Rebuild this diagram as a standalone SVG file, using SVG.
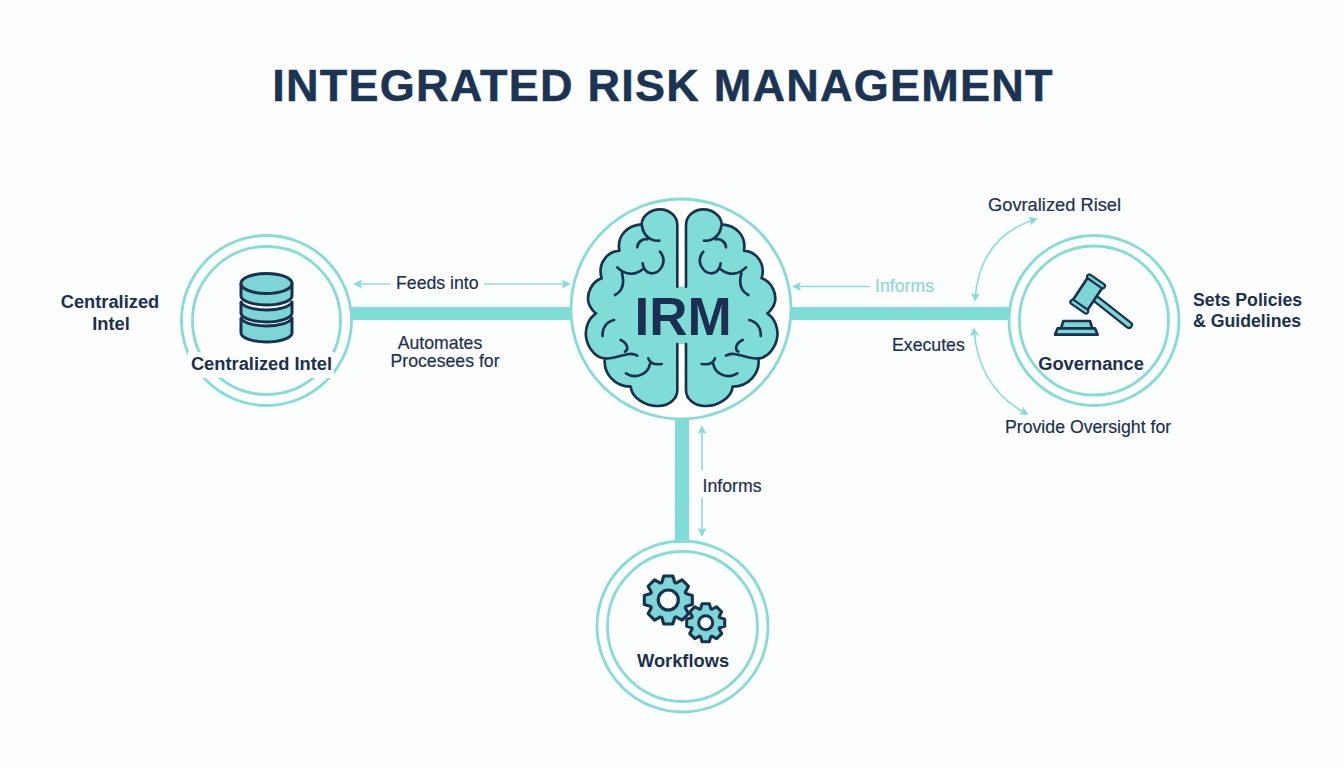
<svg xmlns="http://www.w3.org/2000/svg" width="1344" height="768" viewBox="0 0 1344 768">
<style>
text{font-family:"Liberation Sans",Arial,sans-serif;fill:#1d3050}
.t{font-size:17.700px;stroke:#1d3050;stroke-width:.2}
.b{font-size:18.300px;font-weight:bold}
.ring{fill:none;stroke:#84dcd5;stroke-width:2.8}
.bar{fill:#7fdcd6}
.thin{fill:none;stroke:#8cdfd8;stroke-width:1.7;marker-start:url(#ah);marker-end:url(#ah)}
.one{fill:none;stroke:#8cdfd8;stroke-width:1.7;marker-end:url(#ah)}
.dk{fill:none;stroke:#17314f;stroke-linecap:round;stroke-linejoin:round}
.ic{fill:#7dd5d6;stroke:#17314f;stroke-linejoin:round;stroke-linecap:round}
</style>
<defs>
<marker id="ah" viewBox="0 0 10 10" refX="8" refY="5" markerWidth="9" markerHeight="9" orient="auto-start-reverse" markerUnits="userSpaceOnUse"><path d="M0 0L10 5L0 10L2.500 5Z" fill="#84dcd5"/></marker>
<path id="gear" d="M-27-73L-19-100L19-100L27-73L32.500-70.700L57.300-84.100L84.100-57.300L70.700-32.500L73-27L100-19L100 19L73 27L70.700 32.500L84.100 57.300L57.300 84.100L32.500 70.700L27 73L19 100L-19 100L-27 73L-32.500 70.700L-57.300 84.100L-84.100 57.300L-70.700 32.500L-73 27L-100 19L-100-19L-73-27L-70.700-32.500L-84.100-57.300L-57.300-84.100L-32.500-70.700Z"/>
<g id="hemi">
<path d="M352 290L352 105C352 75 325 58 300 58C270 58 245 80 245 103C205 105 170 135 178 182C140 185 112 222 125 265C95 275 80 310 85 335C88 350 100 365 108 370C85 385 75 415 78 440C82 475 110 505 135 505C128 550 165 590 212 590C215 625 260 650 295 648C330 648 352 625 352 600L352 462Z" fill="#7fdcd6"/>
<path class="dk" stroke-width="8" d="M352 290L352 105C352 75 325 58 300 58C270 58 245 80 245 103C205 105 170 135 178 182C140 185 112 222 125 265C95 275 80 310 85 335C88 350 100 365 108 370C85 385 75 415 78 440C82 475 110 505 135 505C128 550 165 590 212 590C215 625 260 650 295 648C330 648 352 625 352 600L352 462"/>
<path class="dk" stroke-width="8" d="M246 108C250 135 270 155 298 152M232 172C232 155 250 145 262 148M300 185C325 215 300 250 275 250C260 250 248 235 248 220M248 238C225 258 195 255 172 232M186 250C195 285 185 305 165 315M162 390C140 395 125 415 128 438M182 450C205 460 205 480 195 485M232 497C205 480 170 510 135 505M305 522C285 525 270 520 265 505M270 522C265 550 230 570 198 550"/>
</g>
</defs>
<rect width="1344" height="768" fill="#fdfefe"/>
<text id="title" x="663" y="101" text-anchor="middle" font-size="45" font-weight="bold" letter-spacing="1.250" style="fill:#1b3454;stroke:#1b3454;stroke-width:.5">INTEGRATED RISK MANAGEMENT</text>
<g id="connectors">
<rect class="bar" x="350" y="307" width="224" height="13"/>
<rect class="bar" x="789" y="307" width="221" height="13"/>
<rect class="bar" x="675" y="418" width="14" height="125"/>
<path class="one" d="M390 284H355"/>
<path class="one" d="M484 284H569"/>
<path class="one" d="M870 286.500H794"/>
<path class="one" d="M702 470V427"/>
<path class="one" d="M702 498V535"/>
<path class="thin" d="M1036 219Q979 237 975 300"/>
<path class="thin" d="M974 329Q978 388 1027 414"/>
</g>
<g id="labels">
<text class="t" x="396" y="289">Feeds into</text>
<text class="t" x="440" y="349" text-anchor="middle">Automates</text>
<text class="t" x="445" y="367" text-anchor="middle">Procesees for</text>
<text class="t" x="875" y="292" style="fill:#8fd8d2;stroke:#8fd8d2">Informs</text>
<text class="t" x="892" y="351">Executes</text>
<text class="t" x="702.500" y="491.500">Informs</text>
<text class="t" x="988" y="211" style="font-size:18.300px">Govralized Risel</text>
<text class="t" x="1005" y="433">Provide Oversight for</text>
<text class="b" x="110" y="308" text-anchor="middle">Centralized</text>
<text class="b" x="111" y="330" text-anchor="middle">Intel</text>
<text class="b" x="1193" y="306" style="font-size:17.700px">Sets Policies</text>
<text class="b" x="1193" y="327" style="font-size:17.700px">&amp; Guidelines</text>
</g>
<g id="irm">
<circle class="ring" cx="681" cy="309" r="110" style="fill:#fff"/>
<g transform="translate(560 190) scale(.3333)">
<rect x="340" y="290" width="50" height="172" fill="#7fdcd6"/>
<use href="#hemi"/>
<use href="#hemi" transform="translate(730 0) scale(-1 1)"/>
</g>
<text x="683" y="335" text-anchor="middle" font-size="53" font-weight="bold" style="fill:#1b3050">IRM</text>
</g>
<g id="centralized-intel">
<circle class="ring" cx="266.500" cy="320.500" r="85"/>
<circle class="ring" cx="266.500" cy="320.500" r="74"/>
<rect x="188" y="352" width="146" height="26" fill="#fdfefe"/>
<path class="ic" stroke-width="3" d="M241 318C243 323 255 326 266.500 326C278 326 290 323 292 318V333C292 338 280 342 266.500 342C253 342 241 338 241 333Z"/>
<path class="ic" stroke-width="3" d="M241 302C243 307 255 310 266.500 310C278 310 290 307 292 302V313C292 318 280 322 266.500 322C253 322 241 318 241 313Z"/>
<path class="ic" stroke-width="3" d="M241 283.500V296C241 301 253 305 266.500 305C280 305 292 301 292 296V283.500Z"/>
<ellipse class="ic" stroke-width="3" cx="266.500" cy="283.500" rx="25.500" ry="10"/>
<text class="b" x="261.500" y="369.500" text-anchor="middle">Centralized Intel</text>
</g>
<g id="governance">
<circle class="ring" cx="1094" cy="320.500" r="85"/>
<circle class="ring" cx="1094" cy="320.500" r="74.500"/>
<g transform="translate(960 185) scale(.3333)">
<line x1="395" y1="332" x2="507" y2="420" stroke="#17314f" stroke-width="24" stroke-linecap="round"/>
<line x1="395" y1="332" x2="507" y2="420" stroke="#7dd5d6" stroke-width="11" stroke-linecap="round"/>
<polygon class="ic" stroke-width="8" points="386,274 430,304 379,380 335,350"/>
<line x1="388" y1="275" x2="428" y2="303" stroke="#17314f" stroke-width="20" stroke-linecap="round"/>
<line x1="388" y1="275" x2="428" y2="303" stroke="#7dd5d6" stroke-width="7" stroke-linecap="round"/>
<line x1="338" y1="351" x2="378" y2="379" stroke="#17314f" stroke-width="20" stroke-linecap="round"/>
<line x1="338" y1="351" x2="378" y2="379" stroke="#7dd5d6" stroke-width="7" stroke-linecap="round"/>
<path class="ic" stroke-width="8" d="M303 430L310 408H390L397 430Z"/>
<path class="ic" stroke-width="8" d="M285 449L293 430H405L413 449Z"/>
</g>
<text class="b" x="1091" y="369.500" text-anchor="middle">Governance</text>
</g>
<g id="workflows">
<circle class="ring" cx="682.500" cy="626.500" r="85.500"/>
<circle class="ring" cx="682.500" cy="626.500" r="75"/>
<use href="#gear" class="ic" stroke-width="13" transform="translate(668.300 600) scale(.24)"/>
<circle class="ic" stroke-width="3.200" cx="668.300" cy="600" r="10" style="fill:#fdfefe"/>
<use href="#gear" class="ic" stroke-width="16" transform="translate(705.700 622.700) scale(.19)"/>
<circle class="ic" stroke-width="3" cx="705.700" cy="622.700" r="7" style="fill:#fdfefe"/>
<text class="b" x="683" y="667" text-anchor="middle">Workflows</text>
</g>
</svg>
